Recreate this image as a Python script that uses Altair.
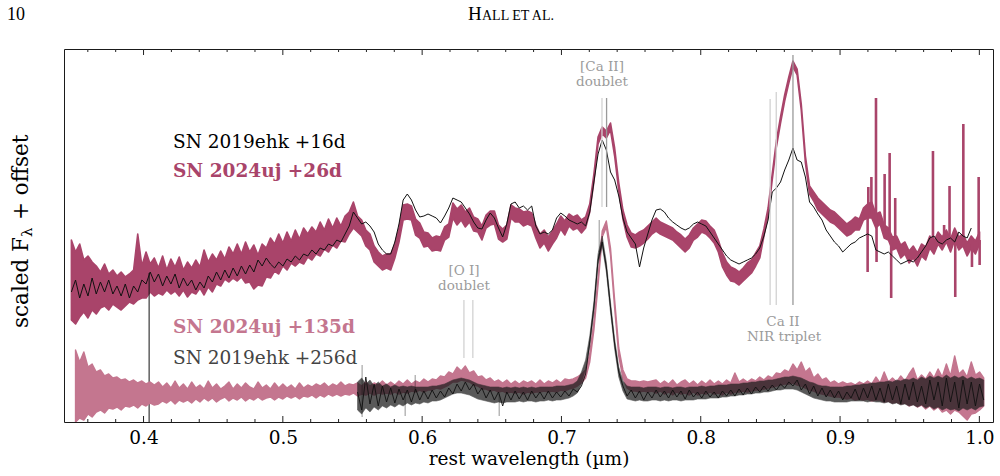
import altair as alt
import pandas as pd

SERIF = "DejaVu Serif"
PAGE_FONT = "Liberation Serif"

# ---------------------------------------------------------------------------
# Spectra, sampled on a common rest-wavelength grid (micron)
# ---------------------------------------------------------------------------
GRID_START = 0.3482
GRID_STEP = 0.002977

# SN 2024uj +26d (upper spectrum): upper / lower edge of the noisy trace,
# grid index 0..219
UPPER_24UJ_26D = [
    1.82, 1.70, 1.78, 1.62, 1.66, 1.60, 1.56, 1.50, 1.58, 1.48,
    1.52, 1.46, 1.50, 1.45, 1.48, 1.52, 1.88, 1.56, 1.70, 1.58,
    1.64, 1.54, 1.66, 1.52, 1.63, 1.55, 1.65, 1.52, 1.60, 1.54,
    1.62, 1.55, 1.72, 1.60, 1.68, 1.62, 1.71, 1.63, 1.75, 1.68,
    1.78, 1.68, 1.80, 1.70, 1.77, 1.67, 1.78, 1.74, 1.84, 1.78,
    1.88, 1.79, 1.90, 1.81, 1.92, 1.83, 1.94, 1.88, 1.95, 1.90,
    2.00, 1.92, 2.03, 1.94, 2.04, 1.96, 2.06, 2.10, 2.20, 2.06,
    2.02, 1.92, 1.88, 1.76, 1.70, 1.66, 1.68, 1.68, 1.78, 1.94,
    2.17, 2.18, 2.16, 2.03, 1.99, 1.90, 1.89, 1.84, 1.86, 1.85,
    1.95, 1.98, 2.19, 2.13, 2.17, 2.10, 2.14, 2.05, 2.03, 1.96,
    2.07, 2.11, 2.11, 1.97, 1.93, 1.97, 2.17, 2.14, 2.13, 2.10,
    2.11, 2.09, 1.97, 1.88, 1.92, 1.85, 1.91, 1.98, 2.06, 2.01,
    2.08, 2.05, 2.07, 2.02, 2.05, 2.18, 2.48, 2.85, 2.95, 2.91,
    2.99, 2.74, 2.39, 2.12, 1.97, 1.89, 1.87, 1.90, 1.92, 1.96,
    2.00, 2.04, 2.00, 1.98, 1.96, 1.94, 1.90, 1.87, 1.83, 1.87,
    1.94, 1.98, 2.02, 2.01, 1.96, 1.92, 1.82, 1.69, 1.60, 1.55,
    1.53, 1.50, 1.54, 1.59, 1.62, 1.69, 1.76, 1.93, 2.14, 2.48,
    2.81, 3.05, 3.27, 3.45, 3.61, 3.53, 3.18, 2.66, 2.36, 2.30,
    2.24, 2.20, 2.16, 2.12, 2.10, 2.06, 2.02, 1.98, 2.01, 2.05,
    2.03, 2.14, 2.18, 2.20, 2.08, 2.10, 1.97, 1.94, 1.85, 1.86,
    1.77, 1.80, 1.71, 1.76, 1.69, 1.78, 1.75, 1.86, 1.81, 1.90,
    1.85, 1.92, 1.83, 1.94, 1.85, 1.88, 1.79, 1.86, 1.81, 1.90,
]
LOWER_24UJ_26D = [
    1.02, 0.98, 1.05, 1.10, 1.04, 1.12, 1.08, 1.14, 1.16, 1.12,
    1.18, 1.15, 1.12, 1.16, 1.20, 1.18, 1.22, 1.24, 1.24, 1.30,
    1.26, 1.29, 1.27, 1.32, 1.28, 1.31, 1.26, 1.32, 1.25, 1.30,
    1.28, 1.34, 1.27, 1.35, 1.30, 1.38, 1.36, 1.43, 1.40, 1.44,
    1.41, 1.45, 1.39, 1.40, 1.33, 1.37, 1.36, 1.45, 1.44, 1.51,
    1.48, 1.56, 1.52, 1.59, 1.56, 1.60, 1.58, 1.65, 1.62, 1.68,
    1.66, 1.73, 1.70, 1.77, 1.74, 1.81, 1.80, 1.88, 1.94, 1.90,
    1.86, 1.76, 1.72, 1.60, 1.56, 1.52, 1.54, 1.52, 1.64, 1.80,
    2.02, 2.03, 2.02, 1.87, 1.84, 1.75, 1.76, 1.71, 1.72, 1.71,
    1.82, 1.85, 2.04, 1.97, 2.02, 1.95, 2.00, 1.91, 1.90, 1.82,
    1.94, 1.97, 1.98, 1.83, 1.80, 1.83, 2.04, 2.00, 2.00, 1.96,
    1.98, 1.96, 1.84, 1.74, 1.79, 1.71, 1.78, 1.84, 1.93, 1.87,
    1.96, 1.92, 1.94, 1.89, 1.94, 2.10, 2.40, 2.78, 2.88, 2.84,
    2.92, 2.66, 2.31, 2.03, 1.85, 1.75, 1.74, 1.76, 1.79, 1.83,
    1.88, 1.91, 1.88, 1.86, 1.84, 1.82, 1.78, 1.74, 1.70, 1.74,
    1.82, 1.85, 1.90, 1.88, 1.84, 1.79, 1.70, 1.55, 1.47, 1.41,
    1.40, 1.37, 1.41, 1.45, 1.49, 1.56, 1.64, 1.86, 2.07, 2.42,
    2.75, 2.99, 3.21, 3.39, 3.55, 3.47, 3.12, 2.59, 2.28, 2.21,
    2.12, 2.08, 2.04, 2.00, 1.98, 1.94, 1.90, 1.86, 1.88, 1.92,
    1.92, 2.02, 2.04, 2.04, 1.94, 1.98, 1.84, 1.82, 1.72, 1.74,
    1.64, 1.68, 1.59, 1.64, 1.56, 1.66, 1.62, 1.74, 1.68, 1.78,
    1.72, 1.80, 1.70, 1.82, 1.72, 1.76, 1.66, 1.74, 1.68, 1.78,
]

# SN 2019ehk +16d (upper spectrum), grid index 0..217
FLUX_19EHK_16D = [
    1.30, 1.42, 1.24, 1.38, 1.26, 1.44, 1.28, 1.40, 1.30, 1.42,
    1.28, 1.36, 1.26, 1.38, 1.24, 1.36, 1.30, 1.42, 1.38, 1.50,
    1.40, 1.48, 1.36, 1.46, 1.38, 1.48, 1.34, 1.44, 1.36, 1.42,
    1.32, 1.40, 1.34, 1.46, 1.40, 1.50, 1.42, 1.52, 1.44, 1.54,
    1.46, 1.56, 1.48, 1.57, 1.50, 1.62, 1.56, 1.64, 1.58, 1.54,
    1.60, 1.56, 1.63, 1.60, 1.66, 1.62, 1.68, 1.66, 1.72, 1.68,
    1.74, 1.72, 1.78, 1.76, 1.82, 1.80, 1.88, 1.96, 2.10, 2.04,
    1.98, 2.00, 1.96, 1.90, 1.78, 1.72, 1.68, 1.68, 1.80, 1.98,
    2.22, 2.28, 2.22, 2.12, 2.05, 2.06, 2.08, 2.06, 2.04, 1.99,
    2.06, 2.14, 2.24, 2.22, 2.20, 2.14, 2.08, 2.00, 1.94, 1.93,
    2.02, 2.09, 2.04, 1.94, 1.85, 1.98, 2.18, 2.20, 2.14, 2.16,
    2.12, 2.16, 1.96, 1.88, 1.90, 1.88, 1.92, 2.04, 2.09, 2.06,
    2.02, 2.00, 1.98, 2.00, 1.96, 2.10, 2.40, 2.68, 2.82, 2.72,
    2.50, 2.42, 2.26, 2.04, 1.90, 1.84, 1.78, 1.55, 1.74, 1.88,
    2.02, 2.12, 2.13, 2.10, 2.04, 2.00, 1.97, 1.94, 1.92, 1.94,
    1.98, 2.00, 1.98, 1.96, 1.90, 1.84, 1.78, 1.72, 1.66, 1.62,
    1.60, 1.58, 1.60, 1.62, 1.64, 1.68, 1.74, 1.86, 2.02, 2.30,
    2.34, 2.40, 2.52, 2.62, 2.74, 2.62, 2.60, 2.45, 2.20, 2.15,
    2.08, 2.02, 1.92, 1.86, 1.80, 1.76, 1.70, 1.74, 1.78, 1.80,
    1.84, 1.86, 1.88, 1.86, 1.72, 1.70, 1.68, 1.70, 1.66, 1.62,
    1.58, 1.60, 1.62, 1.60, 1.64, 1.70, 1.76, 1.84, 1.86, 1.80,
    1.78, 1.82, 1.84, 1.80, 1.90, 1.86, 1.84, 1.94,
]

# SN 2024uj +135d (lower spectrum): trace edges, grid index 1..220
FIRST_24UJ_135D = 1
UPPER_24UJ_135D = [
    0.72, 0.60, 0.70, 0.55, 0.58, 0.50, 0.52, 0.46, 0.48, 0.44,
    0.45, 0.42, 0.43, 0.40, 0.42, 0.39, 0.41, 0.38, 0.40, 0.37,
    0.40, 0.35, 0.39, 0.34, 0.41, 0.34, 0.38, 0.33, 0.40, 0.34,
    0.37, 0.33, 0.41, 0.34, 0.38, 0.33, 0.36, 0.40, 0.33, 0.38,
    0.34, 0.39, 0.35, 0.33, 0.40, 0.34, 0.37, 0.33, 0.39, 0.34,
    0.38, 0.34, 0.37, 0.33, 0.39, 0.34, 0.37, 0.35, 0.38, 0.36,
    0.39, 0.35, 0.38, 0.36, 0.40, 0.36, 0.38, 0.37, 0.39, 0.36,
    0.40, 0.36, 0.39, 0.37, 0.41, 0.37, 0.40, 0.37, 0.41, 0.38,
    0.42, 0.38, 0.41, 0.39, 0.43, 0.40, 0.43, 0.42, 0.46, 0.45,
    0.50, 0.48, 0.55, 0.51, 0.56, 0.49, 0.51, 0.45, 0.46, 0.42,
    0.44, 0.40, 0.42, 0.39, 0.42, 0.38, 0.41, 0.38, 0.41, 0.39,
    0.41, 0.38, 0.42, 0.38, 0.41, 0.39, 0.42, 0.39, 0.43, 0.42,
    0.43, 0.45, 0.48, 0.52, 0.68, 1.00, 1.44, 1.91, 2.01, 1.74,
    1.22, 0.74, 0.52, 0.43, 0.41, 0.41, 0.40, 0.41, 0.40, 0.41,
    0.42, 0.38, 0.41, 0.38, 0.42, 0.37, 0.40, 0.42, 0.38, 0.41,
    0.37, 0.41, 0.38, 0.42, 0.38, 0.41, 0.38, 0.42, 0.39, 0.49,
    0.40, 0.43, 0.40, 0.43, 0.41, 0.45, 0.42, 0.46, 0.44, 0.49,
    0.48, 0.52, 0.50, 0.58, 0.52, 0.60, 0.50, 0.54, 0.44, 0.48,
    0.42, 0.44, 0.39, 0.41, 0.38, 0.40, 0.38, 0.39, 0.37, 0.40,
    0.38, 0.41, 0.38, 0.45, 0.39, 0.50, 0.40, 0.44, 0.40, 0.46,
    0.41, 0.48, 0.54, 0.42, 0.47, 0.43, 0.50, 0.44, 0.53, 0.45,
    0.58, 0.46, 0.66, 0.48, 0.52, 0.45, 0.60, 0.47, 0.50, 0.44,
]
LOWER_24UJ_135D = [
    0.00, 0.04, 0.02, 0.08, 0.05, 0.10, 0.12, 0.09, 0.14, 0.13,
    0.15, 0.12, 0.16, 0.15, 0.17, 0.14, 0.18, 0.16, 0.19, 0.17,
    0.18, 0.21, 0.19, 0.22, 0.18, 0.22, 0.20, 0.22, 0.19, 0.23,
    0.20, 0.24, 0.21, 0.24, 0.20, 0.23, 0.25, 0.21, 0.24, 0.22,
    0.25, 0.21, 0.24, 0.22, 0.25, 0.22, 0.24, 0.25, 0.22, 0.25,
    0.23, 0.26, 0.24, 0.26, 0.23, 0.26, 0.25, 0.27, 0.24, 0.27,
    0.25, 0.28, 0.26, 0.28, 0.26, 0.28, 0.27, 0.29, 0.26, 0.28,
    0.27, 0.29, 0.27, 0.29, 0.28, 0.29, 0.28, 0.30, 0.28, 0.30,
    0.29, 0.31, 0.30, 0.32, 0.30, 0.32, 0.32, 0.34, 0.33, 0.35,
    0.37, 0.40, 0.40, 0.42, 0.41, 0.40, 0.37, 0.36, 0.33, 0.33,
    0.31, 0.32, 0.30, 0.31, 0.29, 0.30, 0.29, 0.30, 0.28, 0.30,
    0.29, 0.30, 0.30, 0.31, 0.30, 0.31, 0.30, 0.32, 0.31, 0.33,
    0.34, 0.36, 0.39, 0.44, 0.60, 0.92, 1.37, 1.85, 1.95, 1.67,
    1.14, 0.66, 0.44, 0.34, 0.31, 0.31, 0.30, 0.31, 0.30, 0.31,
    0.29, 0.31, 0.28, 0.30, 0.27, 0.30, 0.28, 0.29, 0.27, 0.30,
    0.27, 0.29, 0.28, 0.30, 0.28, 0.29, 0.27, 0.30, 0.28, 0.30,
    0.30, 0.31, 0.30, 0.31, 0.32, 0.32, 0.33, 0.34, 0.35, 0.36,
    0.37, 0.38, 0.38, 0.39, 0.37, 0.36, 0.34, 0.32, 0.31, 0.29,
    0.28, 0.27, 0.26, 0.25, 0.25, 0.24, 0.23, 0.24, 0.22, 0.23,
    0.22, 0.23, 0.21, 0.22, 0.22, 0.20, 0.21, 0.19, 0.20, 0.18,
    0.19, 0.16, 0.18, 0.15, 0.17, 0.13, 0.16, 0.12, 0.15, 0.10,
    0.12, 0.08, 0.12, 0.10, 0.06, 0.02, 0.08, 0.09, 0.12, 0.16,
]

# SN 2019ehk +256d (lower spectrum), grid index 69..220:
# trace edges plus the sampled flux running through them
FIRST_19EHK_256D = 69
UPPER_19EHK_256D = [
    0.40, 0.44, 0.38, 0.42, 0.36, 0.40, 0.36, 0.38, 0.35, 0.37,
    0.35, 0.36, 0.35, 0.36, 0.35, 0.35, 0.35, 0.35, 0.36, 0.36,
    0.37, 0.38, 0.40, 0.42, 0.43, 0.44, 0.43, 0.42, 0.40, 0.38,
    0.37, 0.36, 0.35, 0.35, 0.35, 0.34, 0.35, 0.34, 0.35, 0.34,
    0.35, 0.34, 0.35, 0.34, 0.35, 0.35, 0.35, 0.35, 0.36, 0.36,
    0.36, 0.37, 0.38, 0.41, 0.50, 0.62, 0.86, 1.20, 1.68, 1.86,
    1.60, 1.20, 0.83, 0.55, 0.41, 0.36, 0.35, 0.35, 0.35, 0.34,
    0.35, 0.35, 0.35, 0.34, 0.35, 0.35, 0.34, 0.35, 0.35, 0.34,
    0.35, 0.35, 0.35, 0.36, 0.35, 0.36, 0.36, 0.37, 0.37, 0.37,
    0.38, 0.38, 0.38, 0.39, 0.39, 0.40, 0.40, 0.41, 0.41, 0.42,
    0.42, 0.43, 0.44, 0.45, 0.45, 0.46, 0.45, 0.44, 0.42, 0.40,
    0.39, 0.37, 0.36, 0.36, 0.35, 0.35, 0.35, 0.35, 0.36, 0.36,
    0.37, 0.37, 0.38, 0.38, 0.39, 0.39, 0.40, 0.40, 0.41, 0.40,
    0.42, 0.41, 0.43, 0.42, 0.44, 0.42, 0.45, 0.43, 0.46, 0.44,
    0.46, 0.44, 0.47, 0.44, 0.46, 0.44, 0.46, 0.43, 0.45, 0.43,
    0.44, 0.42,
]
LOWER_19EHK_256D = [
    0.12, 0.08, 0.14, 0.10, 0.15, 0.12, 0.16, 0.14, 0.17, 0.15,
    0.18, 0.16, 0.19, 0.17, 0.19, 0.18, 0.20, 0.19, 0.21, 0.21,
    0.22, 0.24, 0.26, 0.28, 0.29, 0.29, 0.28, 0.27, 0.25, 0.23,
    0.22, 0.21, 0.20, 0.19, 0.20, 0.19, 0.20, 0.20, 0.20, 0.21,
    0.20, 0.21, 0.21, 0.20, 0.21, 0.21, 0.22, 0.21, 0.22, 0.22,
    0.23, 0.24, 0.26, 0.29, 0.38, 0.52, 0.76, 1.10, 1.58, 1.76,
    1.50, 1.10, 0.73, 0.45, 0.31, 0.23, 0.22, 0.21, 0.22, 0.21,
    0.21, 0.22, 0.22, 0.21, 0.22, 0.21, 0.22, 0.22, 0.21, 0.22,
    0.22, 0.22, 0.23, 0.23, 0.23, 0.24, 0.24, 0.24, 0.25, 0.25,
    0.26, 0.26, 0.27, 0.27, 0.28, 0.28, 0.29, 0.29, 0.30, 0.30,
    0.31, 0.32, 0.32, 0.33, 0.33, 0.33, 0.32, 0.30, 0.28, 0.26,
    0.24, 0.23, 0.22, 0.21, 0.21, 0.20, 0.20, 0.20, 0.20, 0.21,
    0.21, 0.21, 0.21, 0.20, 0.21, 0.20, 0.20, 0.19, 0.20, 0.18,
    0.19, 0.17, 0.18, 0.16, 0.17, 0.15, 0.17, 0.14, 0.16, 0.13,
    0.15, 0.12, 0.14, 0.12, 0.13, 0.11, 0.14, 0.12, 0.14, 0.12,
    0.15, 0.16,
]
FLUX_19EHK_256D = [
    0.30, 0.12, 0.45, 0.18, 0.38, 0.16, 0.36, 0.20, 0.34, 0.19,
    0.33, 0.22, 0.32, 0.20, 0.33, 0.22, 0.31, 0.23, 0.32, 0.24,
    0.31, 0.25, 0.34, 0.28, 0.38, 0.31, 0.40, 0.32, 0.38, 0.28,
    0.34, 0.24, 0.32, 0.22, 0.30, 0.16, 0.30, 0.22, 0.31, 0.23,
    0.30, 0.22, 0.31, 0.24, 0.30, 0.23, 0.31, 0.24, 0.30, 0.25,
    0.31, 0.26, 0.33, 0.30, 0.36, 0.48, 0.80, 1.15, 1.62, 1.80,
    1.55, 1.15, 0.78, 0.50, 0.36, 0.26, 0.32, 0.24, 0.31, 0.22,
    0.30, 0.24, 0.32, 0.25, 0.31, 0.24, 0.32, 0.25, 0.31, 0.23,
    0.32, 0.25, 0.30, 0.24, 0.31, 0.25, 0.30, 0.24, 0.31, 0.26,
    0.32, 0.26, 0.33, 0.27, 0.34, 0.28, 0.35, 0.30, 0.36, 0.31,
    0.37, 0.32, 0.38, 0.34, 0.40, 0.36, 0.42, 0.32, 0.38, 0.28,
    0.36, 0.26, 0.34, 0.25, 0.32, 0.24, 0.31, 0.22, 0.30, 0.24,
    0.33, 0.22, 0.34, 0.24, 0.36, 0.22, 0.34, 0.20, 0.38, 0.22,
    0.36, 0.18, 0.38, 0.22, 0.40, 0.20, 0.36, 0.18, 0.42, 0.22,
    0.40, 0.16, 0.44, 0.20, 0.40, 0.14, 0.42, 0.18, 0.40, 0.16,
    0.38, 0.22,
]

# Single-pixel spikes (sky residuals / cosmic rays): wavelength, from, to
SPIKE_24UJ_26D_WAVE = [0.9198, 0.9203, 0.9225, 0.9258, 0.9262, 0.9320, 0.9356,
                       0.9367, 0.9396, 0.9667, 0.9747, 0.9786, 0.9827, 0.9885,
                       0.9947, 0.9995, 1.0002]
SPIKE_24UJ_26D_FROM = [2.08, 2.10, 2.08, 2.02, 2.02, 1.94, 1.85, 1.82, 1.76,
                       1.76, 1.82, 1.80, 1.84, 1.80, 1.78, 1.80, 1.82]
SPIKE_24UJ_26D_TO = [1.50, 2.35, 2.45, 3.24, 1.60, 2.48, 2.69, 1.24, 2.24,
                     2.71, 1.97, 2.36, 1.25, 2.98, 1.55, 2.45, 1.57]

SPIKE_19EHK_16D_WAVE = [0.4040]
SPIKE_19EHK_16D_FROM = [1.49]
SPIKE_19EHK_16D_TO = [-0.30]

SPIKE_19EHK_256D_WAVE = [0.5569, 0.5878, 0.5950, 0.6553, 0.7271]
SPIKE_19EHK_256D_FROM = [0.57, 0.30, 0.30, 0.28, 1.70]
SPIKE_19EHK_256D_TO = [0.05, 0.06, 0.47, 0.06, 2.02]

# Line identifications: rest wavelength, vertical extent, shade
LINE_WAVE = [0.6300, 0.6364, 0.7291, 0.7324, 0.8498, 0.8542, 0.8662]
LINE_FROM = [0.64, 0.64, 2.15, 2.15, 1.17, 1.17, 1.17]
LINE_TO = [1.22, 1.22, 3.24, 3.24, 3.23, 3.30, 3.67]
LINE_TONE = ["light", "light", "light", "dark", "light", "light", "dark"]

# Axis ticks
MAJOR_TICKS = [0.4, 0.5, 0.6, 0.7, 0.8, 0.9, 1.0]
MINOR_TICKS = [0.36, 0.38, 0.42, 0.44, 0.46, 0.48, 0.52, 0.54, 0.56, 0.58,
               0.62, 0.64, 0.66, 0.68, 0.72, 0.74, 0.76, 0.78, 0.82, 0.84,
               0.86, 0.88, 0.92, 0.94, 0.96, 0.98]

# Text
LABEL_19EHK_16D = "SN 2019ehk +16d"
LABEL_24UJ_26D = "SN 2024uj +26d"
LABEL_24UJ_135D = "SN 2024uj +135d"
LABEL_19EHK_256D = "SN 2019ehk +256d"
LINE_LABELS = [("[Ca II]", "doublet"), ("[O I]", "doublet"), ("Ca II", "NIR triplet")]
X_TITLE = "rest wavelength (µm)"
PAGE_NUMBER = "10"
RUNNING_HEAD = ("H", "ALL  ET  AL.")

# Colours
PLUM = "#a9446a"
ROSE = "#c4768f"
INK = "#111111"
LINE_LIGHT = "#d2d2d2"
LINE_DARK = "#9a9a9a"
NOTE_GREY = "#9b9b9b"

W, H = 929, 373
XS = alt.Scale(domain=[0.3429, 1.0098], nice=False, zero=False)
YS = alt.Scale(domain=[0.0, 3.73], nice=False, zero=False)
XAXIS = alt.Axis(values=MAJOR_TICKS, format=".1f", ticks=False, domain=False,
                 grid=False, labelFlush=False, labelFont=SERIF, labelFontSize=18.5,
                 labelColor="#000000", labelPadding=6, title=X_TITLE,
                 titleFont=SERIF, titleFontSize=18.5, titleFontWeight="normal",
                 titleColor="#000000", titlePadding=3)


def xenc():
    return alt.X("wave:Q", scale=XS, axis=XAXIS)


def grid(n, first_index=0):
    return [round(GRID_START + GRID_STEP * (first_index + k), 5) for k in range(n)]


def trace_line(flux, color, width, first_index=0, opacity=1.0):
    df = pd.DataFrame({"wave": grid(len(flux), first_index), "flux": flux})
    return alt.Chart(df).mark_line(
        color=color, strokeWidth=width, strokeJoin="round", opacity=opacity, clip=True
    ).encode(x=xenc(), y=alt.Y("flux:Q", scale=YS, axis=None))


def trace_band(upper, lower, color, edge, first_index=0, opacity=1.0):
    df = pd.DataFrame({"wave": grid(len(upper), first_index),
                       "hi": upper, "lo": lower})
    return alt.Chart(df).mark_area(
        color=color, stroke=color, strokeWidth=edge, strokeJoin="round",
        opacity=opacity, clip=True
    ).encode(x=xenc(), y=alt.Y("hi:Q", scale=YS, axis=None), y2="lo:Q")


def spikes(wave, lo, hi, color, width, opacity=1.0):
    df = pd.DataFrame({"wave": wave, "lo": lo, "hi": hi})
    return alt.Chart(df).mark_rule(
        color=color, strokeWidth=width, opacity=opacity, clip=True
    ).encode(x=xenc(), y=alt.Y("lo:Q", scale=YS, axis=None), y2="hi:Q")


def ticks(values, y0, y1):
    df = pd.DataFrame({"wave": values})
    return alt.Chart(df).mark_rule(color="#222222", strokeWidth=1).encode(
        x=xenc(), y=alt.value(y0), y2=alt.value(y1))


def text(label, x, y, size, color, weight="normal", align="left",
         font=SERIF, angle=0, baseline="alphabetic"):
    return alt.Chart(pd.DataFrame({"label": [label]})).mark_text(
        align=align, baseline=baseline, font=font, fontSize=size,
        fontWeight=weight, color=color, angle=angle
    ).encode(x=alt.value(x), y=alt.value(y), text="label:N")


line_ids = alt.Chart(pd.DataFrame({
    "wave": LINE_WAVE, "lo": LINE_FROM, "hi": LINE_TO, "tone": LINE_TONE,
})).mark_rule(strokeWidth=1.3).encode(
    x=xenc(),
    y=alt.Y("lo:Q", scale=YS, axis=None),
    y2="hi:Q",
    color=alt.Color("tone:N", scale=alt.Scale(domain=["light", "dark"],
                                              range=[LINE_LIGHT, LINE_DARK]),
                    legend=None),
)

layers = [
    # upper pair
    trace_band(UPPER_24UJ_26D, LOWER_24UJ_26D, PLUM, 1.6),
    spikes(SPIKE_24UJ_26D_WAVE, SPIKE_24UJ_26D_FROM, SPIKE_24UJ_26D_TO, PLUM, 2.6),
    trace_line(FLUX_19EHK_16D, INK, 1.0),
    spikes(SPIKE_19EHK_16D_WAVE, SPIKE_19EHK_16D_FROM, SPIKE_19EHK_16D_TO, INK, 1.0),
    # lower pair
    trace_band(UPPER_24UJ_135D, LOWER_24UJ_135D, ROSE, 1.4, FIRST_24UJ_135D),
    trace_band(UPPER_19EHK_256D, LOWER_19EHK_256D, "#1a1a1a", 0.6,
               FIRST_19EHK_256D, opacity=0.72),
    trace_line(FLUX_19EHK_256D, INK, 1.0, FIRST_19EHK_256D, opacity=0.9),
    spikes(SPIKE_19EHK_256D_WAVE, SPIKE_19EHK_256D_FROM, SPIKE_19EHK_256D_TO,
           INK, 1.0, opacity=0.45),
    line_ids,
    # inward ticks on the top and bottom frame
    ticks(MAJOR_TICKS, 0, 6),
    ticks(MINOR_TICKS, 0, 3),
    ticks(MAJOR_TICKS, H, H - 6),
    ticks(MINOR_TICKS, H, H - 3),
    # spectrum labels
    text(LABEL_19EHK_16D, 109, 99, 18.5, "#000000"),
    text(LABEL_24UJ_26D, 109, 128, 18.5, PLUM, weight="bold"),
    text(LABEL_24UJ_135D, 109, 284, 18.5, ROSE, weight="bold"),
    text(LABEL_19EHK_256D, 109, 315, 18.5, "#444444"),
    # line identification labels
    text(LINE_LABELS[0][0], 538, 22, 13.5, NOTE_GREY, align="center"),
    text(LINE_LABELS[0][1], 538, 37, 13.5, NOTE_GREY, align="center"),
    text(LINE_LABELS[1][0], 400, 226, 13.5, NOTE_GREY, align="center"),
    text(LINE_LABELS[1][1], 400, 241, 13.5, NOTE_GREY, align="center"),
    text(LINE_LABELS[2][0], 719, 277, 13.5, NOTE_GREY, align="center"),
    text(LINE_LABELS[2][1], 720, 292, 13.5, NOTE_GREY, align="center"),
    # y-axis title: scaled F_lambda + offset
    text("scaled F", -42, 279, 21.5, "#000000", angle=270, baseline="middle"),
    text("λ", -37, 188, 15, "#000000", angle=270, baseline="middle"),
    text("+ offset", -42, 171, 21.5, "#000000", angle=270, baseline="middle"),
    # running head
    text(PAGE_NUMBER, -57, -29, 18, "#000000", font=PAGE_FONT),
    text(RUNNING_HEAD[0], 404, -29, 19, "#000000", font=PAGE_FONT),
    text(RUNNING_HEAD[1], 418, -29, 14, "#000000", font=PAGE_FONT),
]

chart = alt.layer(*layers).properties(
    width=W,
    height=H,
    autosize=alt.AutoSizeParams(type="none"),
    padding={"left": 64, "top": 49, "right": 7, "bottom": 54},
    background="#ffffff",
).configure_view(stroke="#1a1a1a", strokeWidth=1)

chart.save("out.html", embed_options={"renderer": "svg", "actions": False})
